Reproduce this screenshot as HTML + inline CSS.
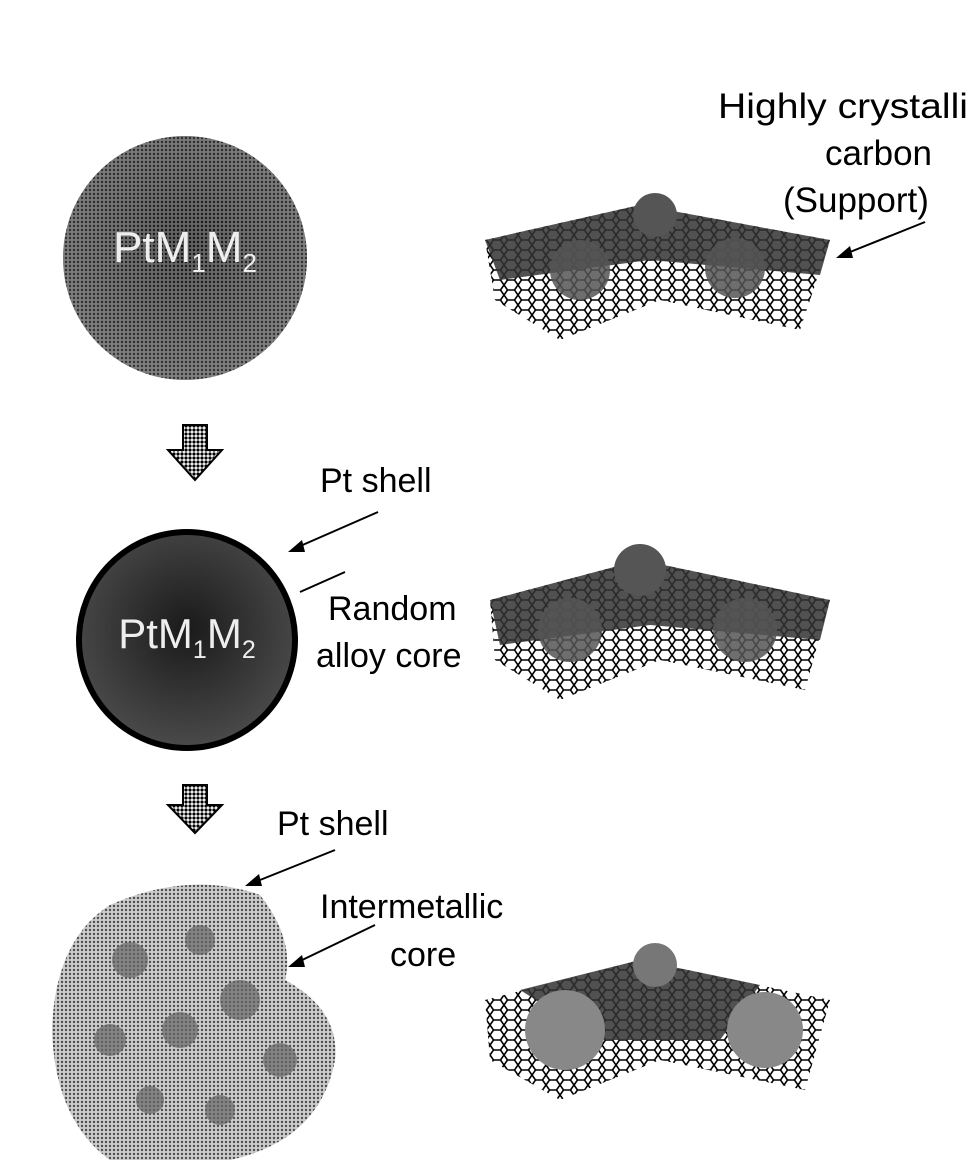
<!DOCTYPE html>
<html><head><meta charset="utf-8"><style>
html,body{margin:0;padding:0;background:#fff;}
svg{display:block;}
text{font-family:"Liberation Sans","DejaVu Sans",sans-serif;}
</style></head><body>
<svg width="971" height="1167" viewBox="0 0 971 1167" xmlns="http://www.w3.org/2000/svg">
<defs>
<pattern id="dots" width="4" height="4" patternUnits="userSpaceOnUse">
<rect width="4" height="4" fill="#fff"/><circle cx="2" cy="2" r="1.6" fill="#000"/>
</pattern>
<pattern id="dotsL" width="4" height="4" patternUnits="userSpaceOnUse">
<rect width="4" height="4" fill="#fff"/><circle cx="2" cy="2" r="1.2" fill="#000"/>
</pattern>
<pattern id="hex" width="14" height="10" patternUnits="userSpaceOnUse">
<rect width="14" height="10" fill="#fff"/>
<path d="M0 5 L3.5 0 L10.5 0 L14 5 L10.5 10 L3.5 10 Z" fill="none" stroke="#000" stroke-width="1.6"/>
</pattern>
<radialGradient id="g1" cx="0.5" cy="0.45" r="0.55">
<stop offset="0" stop-color="#1a1a1a"/><stop offset="1" stop-color="#4a4a4a"/>
</radialGradient>
</defs>

<circle cx="185" cy="258" r="122" fill="url(#g1)"/>
<circle cx="185" cy="258" r="122" fill="url(#dotsL)" opacity="0.3"/>
<text x="185" y="262" font-size="44" fill="#eee" text-anchor="middle">PtM<tspan font-size="26" dy="10">1</tspan><tspan dy="-10">M</tspan><tspan font-size="26" dy="10">2</tspan></text>

<path d="M485 240 L640 205 L830 240 L800 330 L660 300 L560 340 L495 300 Z" fill="url(#hex)"/>
<path d="M485 240 L640 205 L830 240 L820 275 L650 260 L500 280 Z" fill="#333" opacity="0.85"/>
<circle cx="655" cy="215" r="22" fill="#555"/>
<circle cx="580" cy="270" r="30" fill="#555" opacity="0.85"/>
<circle cx="735" cy="268" r="30" fill="#555" opacity="0.85"/>

<text x="718" y="118" font-size="35" fill="#000" textLength="250" lengthAdjust="spacingAndGlyphs">Highly crystalli</text>
<text x="825" y="165" font-size="35" fill="#000">carbon</text>
<text x="783" y="212" font-size="35" fill="#000">(Support)</text>
<line x1="925" y1="222" x2="845" y2="254" stroke="#000" stroke-width="2"/>
<polygon points="836,258 850,246 853,258" fill="#000"/>

<polygon points="183,425 207,425 207,450 222,450 195,480 168,450 183,450" fill="url(#dots)" stroke="#000" stroke-width="2"/>

<text x="320" y="492" font-size="34" fill="#000">Pt shell</text>
<line x1="378" y1="512" x2="298" y2="547" stroke="#000" stroke-width="2"/>
<polygon points="288,552 302,540 305,552" fill="#000"/>

<circle cx="187" cy="640" r="108" fill="url(#g1)" stroke="#000" stroke-width="6"/>
<text x="187" y="648" font-size="42" fill="#eee" text-anchor="middle">PtM<tspan font-size="25" dy="10">1</tspan><tspan dy="-10">M</tspan><tspan font-size="25" dy="10">2</tspan></text>
<line x1="300" y1="592" x2="345" y2="572" stroke="#000" stroke-width="2"/>
<text x="328" y="620" font-size="34" fill="#000">Random</text>
<text x="316" y="667" font-size="34" fill="#000">alloy core</text>

<path d="M490 600 L640 560 L830 600 L805 690 L660 660 L560 700 L495 660 Z" fill="url(#hex)"/>
<path d="M490 600 L640 560 L830 600 L820 640 L650 625 L500 645 Z" fill="#333" opacity="0.85"/>
<circle cx="640" cy="570" r="26" fill="#555"/>
<circle cx="570" cy="630" r="32" fill="#555" opacity="0.85"/>
<circle cx="745" cy="630" r="32" fill="#555" opacity="0.85"/>

<polygon points="183,785 207,785 207,805 222,805 195,833 168,805 183,805" fill="url(#dots)" stroke="#000" stroke-width="2"/>

<text x="277" y="835" font-size="34" fill="#000">Pt shell</text>
<line x1="335" y1="850" x2="255" y2="882" stroke="#000" stroke-width="2"/>
<polygon points="245,886 259,874 262,886" fill="#000"/>
<text x="320" y="918" font-size="34" fill="#000">Intermetallic</text>
<text x="390" y="966" font-size="34" fill="#000">core</text>
<line x1="375" y1="925" x2="298" y2="962" stroke="#000" stroke-width="2"/>
<polygon points="288,967 302,955 305,967" fill="#000"/>

<path d="M110 905 Q190 870 260 895 Q295 940 285 980 Q340 1010 335 1060 Q320 1140 230 1160 L110 1160 Q55 1120 52 1030 Q55 940 110 905 Z" fill="#999"/>
<path d="M110 905 Q190 870 260 895 Q295 940 285 980 Q340 1010 335 1060 Q320 1140 230 1160 L110 1160 Q55 1120 52 1030 Q55 940 110 905 Z" fill="url(#dotsL)" opacity="0.5"/>
<g fill="#666" opacity="0.7">
<circle cx="130" cy="960" r="18"/><circle cx="200" cy="940" r="15"/><circle cx="240" cy="1000" r="20"/>
<circle cx="110" cy="1040" r="16"/><circle cx="180" cy="1030" r="18"/><circle cx="280" cy="1060" r="17"/>
<circle cx="150" cy="1100" r="14"/><circle cx="220" cy="1110" r="15"/>
</g>

<path d="M485 1000 L640 960 L830 1000 L805 1090 L660 1060 L560 1100 L490 1060 Z" fill="url(#hex)"/>
<path d="M520 990 L640 960 L760 985 L720 1040 L600 1040 Z" fill="#333" opacity="0.85"/>
<circle cx="655" cy="965" r="22" fill="#777"/>
<circle cx="565" cy="1030" r="40" fill="#888"/>
<circle cx="765" cy="1030" r="38" fill="#888"/>
</svg>
</body></html>
